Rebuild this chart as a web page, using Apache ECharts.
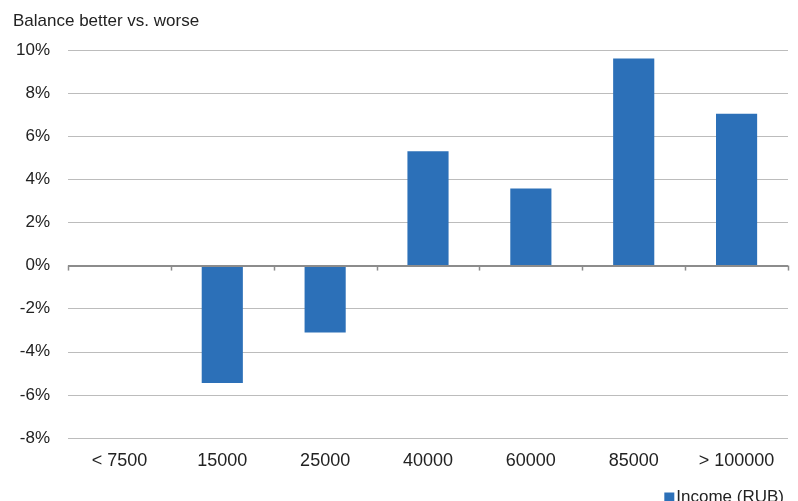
<!DOCTYPE html>
<html>
<head>
<meta charset="utf-8">
<script src="https://cdn.jsdelivr.net/npm/echarts@6/dist/echarts.min.js"></script>
<style>
  html, body { margin: 0; padding: 0; background: #fff; }
  #chart { width: 798px; height: 501px; }
</style>
</head>
<body>
<div id="chart"></div>
<script>
// Income brackets (RUB) and net balance of "better" vs "worse" answers, in %
const categories = ['< 7500', '15000', '25000', '40000', '60000', '85000', '> 100000'];
const balance = [0, -5.45, -3.1, 5.3, 3.57, 9.6, 7.04];
const seriesName = 'Income (RUB)';
const axisTitle = 'Balance better vs. worse';

const font = '"Liberation Sans", Arial, Helvetica, sans-serif';
const chart = echarts.init(document.getElementById('chart'), null, { renderer: 'canvas' });

chart.setOption({
  animation: false,
  backgroundColor: '#ffffff',
  textStyle: { fontFamily: font },
  title: {
    text: axisTitle,
    left: 8,
    top: 8,
    textStyle: { fontFamily: font, fontSize: 17, fontWeight: 'normal', color: '#222' }
  },
  legend: {
    data: [seriesName],
    right: 9,
    top: 484,
    icon: 'rect',
    itemWidth: 10,
    itemHeight: 10,
    itemGap: 4,
    textStyle: { fontFamily: font, fontSize: 17, color: '#222', padding: [0, 0, 0, -3] }
  },
  grid: { left: 68, right: 10, top: 50, bottom: 63, containLabel: false },
  xAxis: {
    type: 'category',
    data: categories,
    position: 'bottom',
    axisLine: { show: false },
    axisTick: { show: false },
    axisLabel: { fontFamily: font, fontSize: 18, color: '#222', margin: 14 },
    splitLine: { show: false }
  },
  yAxis: {
    type: 'value',
    min: -8,
    max: 10,
    interval: 2,
    axisLine: { show: false },
    axisTick: { show: false },
    axisLabel: {
      fontFamily: font, fontSize: 17, color: '#222', margin: 18,
      formatter: '{value}%'
    },
    splitLine: { lineStyle: { color: '#bcbcbc', width: 1 } }
  },
  series: [
    {
      name: seriesName,
      type: 'bar',
      data: balance,
      barWidth: '40%',
      itemStyle: { color: '#2c70b8' },
      // zero line drawn across the plot
      markLine: {
        silent: true,
        symbol: 'none',
        label: { show: false },
        lineStyle: { color: '#8c8c8c', width: 2, type: 'solid' },
        data: [{ yAxis: 0 }]
      }
    }
  ],
  graphic: []
});

// boundary tick marks below the zero line, placed through the axis scale
function drawTicks() {
  const els = [];
  const x1 = chart.convertToPixel({ xAxisIndex: 0 }, 0);
  const x2 = chart.convertToPixel({ xAxisIndex: 0 }, 1);
  const step = x2 - x1;
  const y = chart.convertToPixel({ yAxisIndex: 0 }, 0);
  for (let i = 0; i <= categories.length; i++) {
    const x = x1 - step / 2 + i * step;
    els.push({
      type: 'line',
      shape: { x1: Math.round(x) + 0.5, y1: y, x2: Math.round(x) + 0.5, y2: y + 5 },
      style: { stroke: '#8c8c8c', lineWidth: 1.5 },
      silent: true
    });
  }
  chart.setOption({ graphic: els });
}
drawTicks();
</script>
</body>
</html>
